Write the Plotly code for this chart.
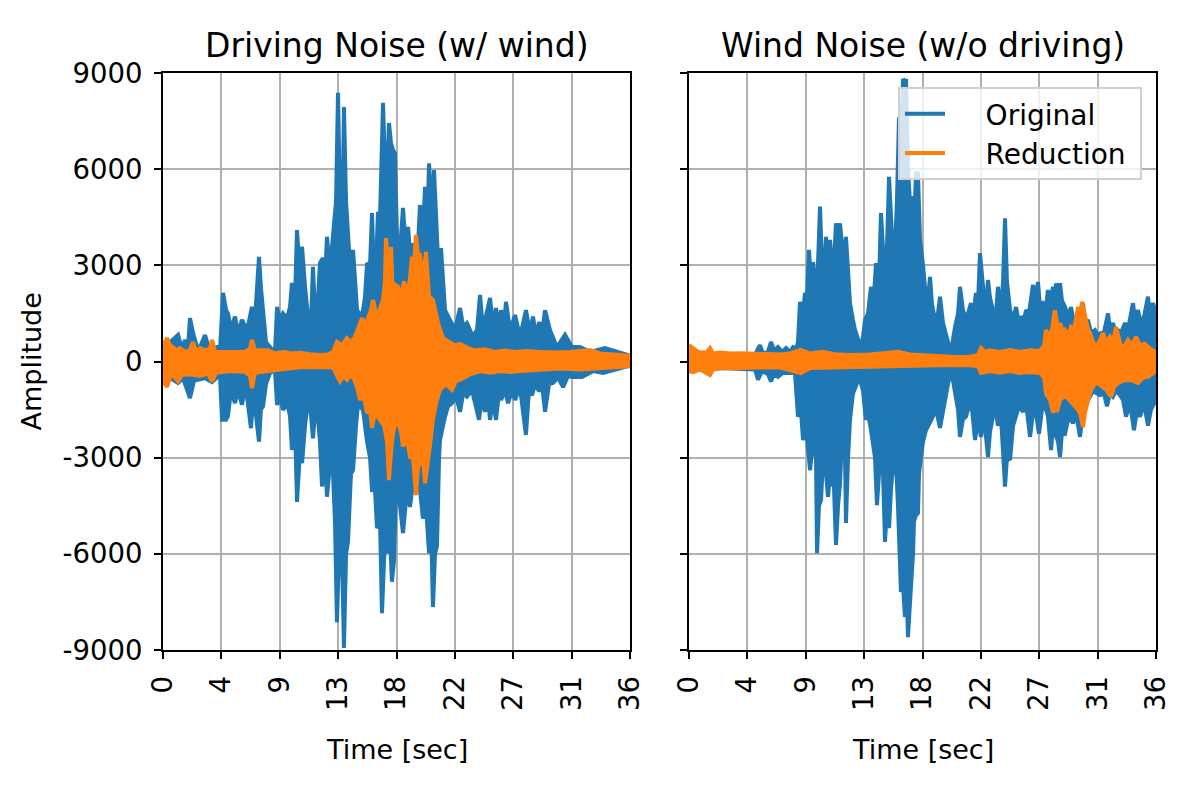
import plotly.graph_objects as go
from plotly.subplots import make_subplots

BLUE = '#1f77b4'
ORANGE = '#ff7f0e'
FONT = 'DejaVu Sans'

titles = ['Driving Noise (w/ wind)', 'Wind Noise (w/o driving)']
x_tick_vals = [0, 4.5, 9, 13.5, 18, 22.5, 27, 31.5, 36]
x_tick_text = ['0', '4', '9', '13', '18', '22', '27', '31', '36']
y_tick_vals = [-9000, -6000, -3000, 0, 3000, 6000, 9000]
y_tick_text = ['-9000', '-6000', '-3000', '0', '3000', '6000', '9000']

# ---- Driving noise (w/ wind): peak envelopes ----
drive_orig_up_t = [0.0, 0.15, 0.54, 1.16, 1.46, 1.70, 1.93, 2.08, 2.31, 2.62, 2.85, 3.24, 3.55, 4.16, 4.39,
                   4.63, 4.86, 5.01, 5.24, 5.55, 5.78, 6.09, 6.48, 6.86, 7.09, 7.25, 7.40, 7.55, 7.71, 7.94,
                   8.25, 8.63, 8.79, 9.02, 9.25, 9.56, 9.79, 9.94, 10.18, 10.33, 10.56, 10.72, 10.95, 11.18,
                   11.41, 11.56, 11.72, 11.87, 12.10, 12.33, 12.49, 12.64, 12.87, 13.11, 13.34, 13.49, 13.64,
                   13.80, 13.95, 14.11, 14.26, 14.49, 14.65, 14.96, 15.34, 15.57, 15.73, 15.96, 16.11, 16.34,
                   16.57, 16.73, 16.96, 17.11, 17.19, 17.42, 17.58, 17.73, 17.88, 18.04, 18.19, 18.50, 18.73,
                   18.89, 19.12, 19.27, 19.58, 19.81, 20.04, 20.20, 20.35, 20.51, 20.66, 20.89, 21.12, 21.28,
                   21.43, 21.74, 22.12, 22.51, 22.90, 23.13, 23.43, 23.90, 24.21, 24.44, 24.67, 24.82, 25.21,
                   25.44, 25.67, 25.90, 26.06, 26.29, 26.44, 26.75, 27.14, 27.52, 27.98, 28.29, 28.52, 28.75,
                   28.99, 29.22, 29.45, 29.83, 30.37, 30.99, 31.53, 32.15, 32.92, 34.07, 35.08, 35.85, 36.0]
drive_orig_up_a = [400, 580, 600, 830, 400, 670, 450, 1350, 900, 450, 450, 825, 400, 450, 300,
                   2140, 1600, 1500, 1000, 1400, 900, 1300, 980, 1700, 1300, 2640, 3260, 2300, 1670, 600,
                   450, 270, 1700, 1300, 1500, 1350, 1700, 2450, 2000, 4100, 2600, 3580, 2330, 1400,
                   1200, 2950, 1500, 1400, 3070, 3230, 2500, 3890, 2850, 4100, 5000, 8380, 4940,
                   3500, 7940, 5000, 3890, 2500, 3480, 1600, 1400, 2000, 3070, 3000, 4630, 1820,
                   4670, 4500, 8070, 5500, 4940, 7440, 6800, 6600, 6500, 3890, 3000, 4790, 3500,
                   4200, 3000, 3690, 3000, 4880, 4000, 5450, 4000, 6180, 4500, 5970, 3890, 2500,
                   3540, 1600, 1300, 1000, 1670, 1100, 1200, 770, 1000, 2080, 1000, 1300, 1980,
                   1100, 1670, 1000, 1600, 1100, 1860, 980, 1450, 770, 1600, 900, 1400, 800,
                   1230, 900, 1600, 980, 450, 830, 450, 450, 300, 420, 300, 200, 150]

drive_orig_lo_t = [0.0, 0.15, 0.31, 0.69, 1.16, 1.54, 2.08, 2.39, 2.85, 3.24, 3.78, 4.16, 4.39, 4.55, 4.86,
                   5.01, 5.24, 5.55, 5.78, 6.09, 6.32, 6.48, 6.78, 6.94, 7.09, 7.40, 7.55, 7.71, 7.94, 8.25,
                   8.63, 8.79, 9.02, 9.25, 9.56, 9.79, 9.94, 10.18, 10.33, 10.56, 10.72, 10.95, 11.10, 11.33,
                   11.56, 11.72, 11.87, 12.10, 12.26, 12.49, 12.64, 12.87, 13.03, 13.26, 13.41, 13.57, 13.72,
                   13.80, 13.95, 14.11, 14.26, 14.49, 14.65, 14.88, 15.03, 15.42, 15.73, 15.96, 16.11, 16.34,
                   16.50, 16.73, 16.88, 17.11, 17.27, 17.50, 17.65, 17.81, 17.96, 18.19, 18.50, 18.81, 19.04,
                   19.27, 19.58, 19.81, 20.04, 20.27, 20.51, 20.66, 20.81, 20.97, 21.12, 21.28, 21.35, 21.74,
                   21.97, 22.28, 22.59, 22.90, 23.13, 23.43, 23.82, 24.36, 24.59, 24.82, 25.05, 25.21, 25.44,
                   25.67, 25.90, 26.06, 26.36, 26.60, 26.90, 27.14, 27.52, 27.98, 28.21, 28.45, 28.68, 28.99,
                   29.22, 29.45, 29.76, 30.06, 30.45, 30.84, 31.22, 31.53, 32.30, 33.15, 33.92, 35.00, 35.85,
                   36.0]
drive_orig_lo_a = [-400, -480, -500, -550, -670, -520, -1140, -600, -550, -520, -640, -500, -400, -1820, -1820,
                   -1700, -900, -1300, -900, -1350, -800, -1100, -2080, -1200, -1400, -2500, -1500, -1400, -700, -360,
                   -250, -1350, -1100, -1510, -1300, -1700, -2760, -2000, -4380, -2800, -3170, -2000, -1510, -1300,
                   -2400, -1600, -1400, -2500, -3900, -3000, -4220, -3200, -2760, -5000, -8130, -6000, -5880,
                   -6000, -8940, -6000, -5630, -3500, -3390, -2000, -1350, -1510, -2500, -3000, -4010, -4000,
                   -5200, -5000, -7850, -5500, -5980, -5500, -6870, -6200, -4010, -4200, -5350, -4000, -4540,
                   -3800, -3490, -4000, -4900, -4500, -5980, -5000, -7660, -6000, -5770, -3000, -2450, -1720,
                   -1400, -1300, -1100, -1570, -1000, -1100, -900, -1820, -1100, -1570, -1100, -1820, -1200,
                   -1820, -1000, -1200, -900, -1300, -900, -1200, -800, -2290, -900, -1050, -700, -930,
                   -700, -1570, -700, -670, -500, -800, -450, -480, -480, -300, -360, -250, -140,
                   -130]

drive_red_up_t = [0.0, 0.15, 0.31, 0.54, 0.77, 1.00, 1.31, 1.70, 2.08, 2.31, 2.54, 2.85, 3.24, 3.62, 3.78,
                  4.01, 4.78, 5.55, 6.32, 6.71, 6.86, 7.09, 7.48, 8.09, 8.63, 9.40, 9.79, 10.56, 11.33, 12.10,
                  12.72, 13.11, 13.41, 13.80, 14.18, 14.49, 14.80, 15.03, 15.34, 15.57, 15.80, 16.03, 16.19,
                  16.42, 16.57, 16.81, 16.96, 17.11, 17.19, 17.34, 17.50, 17.58, 17.73, 17.88, 18.12, 18.27,
                  18.58, 18.81, 19.04, 19.19, 19.35, 19.50, 19.66, 19.81, 20.04, 20.27, 20.51, 20.81, 21.05,
                  21.20, 21.58, 22.12, 22.51, 22.90, 23.51, 24.05, 24.82, 25.59, 26.36, 27.14, 27.91, 29.06,
                  30.22, 31.37, 32.92, 33.69, 34.84, 36.0]
drive_red_up_a = [500, 600, 730, 500, 450, 350, 420, 300, 350, 610, 300, 420, 350, 400, 670,
                  300, 300, 320, 300, 400, 670, 350, 360, 350, 250, 300, 250, 270, 230, 200,
                  220, 300, 610, 500, 730, 600, 770, 1000, 1350, 1100, 1400, 1600, 1920,
                  1500, 1450, 1700, 1920, 2500, 3850, 3000, 2910, 3580, 1920, 2400, 2330, 1920,
                  2500, 2020, 2600, 3270, 3000, 3950, 3300, 3320, 2540, 3420, 2020, 1920, 1500,
                  1200, 730, 610, 500, 550, 420, 350, 380, 300, 340, 300, 330, 300,
                  280, 300, 360, 250, 200, 180]

drive_red_lo_t = [0.0, 0.15, 0.31, 0.54, 0.77, 1.16, 1.46, 2.08, 2.85, 3.47, 3.78, 4.09, 5.16, 6.32, 6.71,
                  6.86, 7.09, 7.86, 9.02, 10.56, 12.10, 13.11, 13.41, 13.64, 13.95, 14.18, 14.42, 14.65, 14.96,
                  15.19, 15.42, 15.73, 15.96, 16.11, 16.34, 16.73, 17.04, 17.27, 17.42, 17.58, 17.73, 17.96,
                  18.12, 18.35, 18.50, 18.81, 19.04, 19.27, 19.50, 19.66, 19.81, 20.04, 20.20, 20.35, 20.51,
                  20.81, 21.05, 21.35, 21.82, 22.28, 22.59, 22.90, 23.67, 24.44, 25.21, 25.98, 26.75, 27.52,
                  29.06, 30.60, 32.15, 33.69, 34.84, 36.0]
drive_red_lo_a = [-500, -700, -790, -500, -420, -620, -420, -400, -450, -380, -620, -350, -300, -320, -450,
                  -830, -350, -300, -250, -180, -170, -190, -400, -620, -450, -570, -450, -480, -800,
                  -1200, -1000, -1600, -1500, -2070, -1600, -1820, -2000, -2500, -3700, -2800, -2250, -1820,
                  -1900, -2200, -2650, -2400, -2980, -3000, -4170, -3300, -3170, -3000, -3800, -3300, -2850,
                  -1820, -1300, -880, -700, -880, -600, -570, -400, -300, -350, -300, -330, -300,
                  -250, -220, -250, -200, -180, -150]

# ---- Wind noise (w/o driving) ----
wind_orig_up_t = [0.0, 0.85, 2.00, 3.16, 4.32, 5.09, 5.32, 5.47, 5.70, 6.09, 6.32, 6.55, 6.86, 7.17, 7.48,
                  7.79, 8.02, 8.25, 8.40, 8.56, 8.79, 8.94, 9.10, 9.25, 9.40, 9.56, 9.71, 9.79, 9.94, 10.10,
                  10.25, 10.33, 10.56, 10.72, 10.87, 11.10, 11.33, 11.49, 11.64, 11.79, 11.95, 12.10, 12.26,
                  12.41, 12.64, 12.80, 13.03, 13.18, 13.34, 13.57, 13.80, 14.03, 14.18, 14.42, 14.65, 14.80,
                  14.96, 15.11, 15.26, 15.42, 15.57, 15.65, 15.88, 16.03, 16.19, 16.34, 16.50, 16.65, 16.73,
                  16.88, 17.04, 17.27, 17.42, 17.50, 17.65, 17.81, 18.04, 18.19, 18.42, 18.58, 18.73, 18.96,
                  19.19, 19.35, 19.58, 19.73, 19.97, 20.12, 20.27, 20.51, 20.74, 20.89, 21.12, 21.28, 21.51,
                  21.74, 21.89, 22.12, 22.28, 22.43, 22.59, 22.74, 22.90, 23.05, 23.20, 23.43, 23.67, 23.82,
                  23.97, 24.05, 24.21, 24.36, 24.51, 24.75, 24.98, 25.21, 25.44, 25.59, 25.82, 25.98, 26.21,
                  26.52, 26.67, 26.90, 27.06, 27.29, 27.52, 27.67, 27.83, 28.06, 28.21, 28.29, 28.45, 28.60,
                  28.75, 28.99, 29.22, 29.45, 29.68, 29.99, 30.14, 30.37, 30.53, 30.76, 30.99, 31.30, 31.53,
                  31.76, 31.99, 32.30, 32.45, 32.68, 32.92, 33.07, 33.30, 33.61, 33.84, 34.23, 34.38, 34.61,
                  34.84, 35.08, 35.38, 35.54, 35.77, 36.0]
wind_orig_up_a = [200, 180, 200, 150, 180, 200, 400, 510, 250, 300, 610, 350, 450, 300, 420,
                  300, 450, 400, 600, 1860, 1500, 2140, 2000, 3480, 2500, 3100, 2500, 2020, 3000, 4830,
                  3000, 2020, 3890, 3000, 3790, 2500, 4310, 3800, 4310, 3480, 3000, 3890, 2500,
                  1820, 1300, 980, 700, 570, 500, 1300, 1500, 2330, 1600, 3070, 2500, 4630,
                  3500, 3070, 3500, 5760, 4000, 3890, 3480, 5000, 7620, 7000, 8810, 8750, 8810,
                  6000, 4940, 5140, 5000, 5870, 5870, 3790, 3000, 2330, 1920, 2640, 1800, 1300,
                  1500, 2020, 1200, 980, 600, 270, 500, 1080, 1500, 2330, 1600, 1400, 1500,
                  1820, 1300, 2140, 1800, 3380, 2500, 2020, 1700, 2540, 2000, 1600, 1500, 2330,
                  1700, 1600, 2500, 4470, 2500, 1600, 1300, 1700, 1200, 1400, 1300, 1600, 1500,
                  2390, 1800, 2480, 1700, 1820, 1700, 2230, 1800, 2330, 2000, 2440, 2100, 2440,
                  1900, 1700, 1400, 1700, 1200, 1200, 1000, 1820, 1200, 1300, 900, 980, 800,
                  890, 900, 1500, 1000, 1200, 900, 980, 900, 1200, 1000, 1820, 1300, 1600,
                  1200, 1400, 2020, 1500, 1820, 1500]

wind_orig_lo_t = [0.0, 0.85, 2.39, 3.93, 5.09, 5.32, 5.63, 6.09, 6.32, 6.55, 6.86, 7.25, 7.63, 8.17, 8.40,
                  8.63, 8.79, 9.02, 9.33, 9.48, 9.64, 9.79, 9.87, 10.02, 10.18, 10.33, 10.41, 10.56, 10.72,
                  10.87, 10.95, 11.10, 11.33, 11.49, 11.64, 11.79, 11.87, 12.03, 12.10, 12.26, 12.41, 12.64,
                  12.80, 13.03, 13.18, 13.41, 13.64, 13.80, 14.03, 14.18, 14.34, 14.49, 14.65, 14.80, 14.96,
                  15.11, 15.26, 15.42, 15.57, 15.65, 15.80, 15.96, 16.11, 16.34, 16.50, 16.65, 16.81, 16.88,
                  17.04, 17.11, 17.27, 17.34, 17.50, 17.65, 17.73, 17.88, 18.04, 18.27, 18.58, 18.81, 19.04,
                  19.35, 19.58, 19.81, 19.97, 20.20, 20.35, 20.51, 20.74, 20.89, 21.12, 21.35, 21.58, 21.82,
                  22.05, 22.28, 22.51, 22.74, 23.05, 23.20, 23.43, 23.67, 23.82, 24.05, 24.21, 24.36, 24.51,
                  24.75, 24.98, 25.21, 25.44, 25.75, 25.98, 26.29, 26.52, 26.67, 26.98, 27.21, 27.44, 27.67,
                  27.91, 28.06, 28.21, 28.45, 28.60, 28.75, 28.99, 29.29, 29.60, 29.83, 30.14, 30.37, 30.76,
                  31.14, 31.45, 31.68, 31.99, 32.22, 32.45, 32.68, 32.92, 33.22, 33.46, 33.69, 34.00, 34.30,
                  34.54, 34.77, 35.08, 35.38, 35.61, 35.77, 36.0]
wind_orig_lo_a = [-200, -220, -200, -220, -250, -570, -300, -400, -620, -400, -480, -350, -360, -360, -1720,
                  -1500, -2450, -2000, -3390, -2800, -2650, -3000, -5980, -4500, -4320, -3000, -2450, -3500, -4220,
                  -3500, -3900, -3000, -5720, -4500, -3800, -2500, -1720, -3000, -5040, -3000, -1820, -1000,
                  -800, -600, -570, -900, -1820, -1600, -2140, -2500, -3000, -4480, -3500, -3020, -3500,
                  -5630, -4500, -5200, -4000, -3600, -3300, -3170, -4500, -7190, -7000, -7970, -7500, -8600,
                  -7500, -7030, -6000, -5000, -4790, -4730, -3500, -2980, -2500, -2140, -1900, -1720, -1500,
                  -2070, -1500, -1050, -700, -250, -600, -930, -1500, -2350, -1800, -1720, -1400, -1500,
                  -2450, -1800, -2350, -1700, -2980, -2200, -1720, -1600, -2000, -1700, -2500, -3900, -3000,
                  -3070, -2000, -1720, -1400, -1570, -1300, -2350, -1600, -1400, -2250, -1500, -1400, -1700,
                  -2760, -2000, -2250, -2500, -2980, -2200, -2250, -1700, -1930, -1600, -2350, -1600, -1200,
                  -930, -1000, -1050, -1000, -1400, -1000, -1100, -900, -1050, -1200, -1720, -1300, -2140,
                  -1500, -1720, -1300, -2000, -1500, -1400, -1200]

wind_red_up_t = [0.0, 0.31, 0.69, 1.08, 1.39, 1.62, 1.85, 2.39, 3.16, 3.93, 4.70, 5.47, 6.24, 7.01, 7.79,
                 8.63, 9.33, 10.33, 11.25, 12.41, 13.95, 15.11, 16.11, 17.04, 18.19, 19.35, 20.51, 21.66,
                 22.28, 22.51, 22.82, 23.20, 23.97, 24.75, 25.52, 26.29, 27.06, 27.37, 27.52, 27.75, 27.98,
                 28.21, 28.45, 28.60, 28.83, 28.99, 29.22, 29.45, 29.68, 29.99, 30.14, 30.30, 30.53, 30.76,
                 30.91, 31.30, 31.61, 31.91, 32.15, 32.45, 32.68, 32.92, 33.15, 33.30, 33.61, 33.84, 34.15,
                 34.46, 34.77, 35.15, 35.54, 35.77, 36.0]
wind_red_up_a = [510, 400, 300, 280, 300, 420, 250, 280, 250, 260, 250, 220, 230, 220, 250,
                 360, 250, 300, 230, 200, 220, 250, 300, 220, 200, 150, 140, 150,
                 200, 420, 300, 350, 300, 360, 300, 350, 330, 500, 980, 800, 1000,
                 1600, 1000, 1200, 900, 980, 800, 1080, 1000, 1700, 1500, 1860, 1400, 1000,
                 890, 450, 600, 890, 600, 770, 600, 1080, 700, 450, 500, 670, 500,
                 770, 500, 550, 400, 360, 300]

wind_red_lo_t = [0.0, 0.31, 0.85, 1.62, 1.85, 2.39, 3.93, 5.47, 7.01, 8.63, 9.33, 10.87, 12.41, 13.95, 15.49,
                 17.04, 18.58, 20.12, 21.66, 22.28, 22.51, 23.20, 23.97, 24.75, 25.52, 26.29, 27.06, 27.37,
                 27.52, 27.83, 28.06, 28.21, 28.37, 28.60, 28.99, 29.37, 29.76, 30.14, 30.37, 30.53, 30.76,
                 30.99, 31.30, 31.61, 31.91, 32.22, 32.53, 32.76, 33.07, 33.46, 33.84, 34.23, 34.61, 35.00,
                 35.38, 35.77, 36.0]
wind_red_lo_a = [-300, -330, -250, -420, -250, -220, -200, -190, -190, -360, -200, -180, -170, -180, -170,
                 -150, -120, -110, -120, -150, -360, -300, -350, -300, -360, -330, -360, -500,
                 -1000, -1200, -1600, -1400, -1570, -1200, -1050, -1200, -1400, -1600, -2050, -1600, -1200,
                 -900, -670, -700, -800, -900, -1100, -800, -670, -600, -570, -600, -670, -500,
                 -480, -360, -300]


def band(t_up, a_up, t_lo, a_lo):
    # closed outline: upper envelope forwards, lower envelope backwards
    return t_up + t_lo[::-1], a_up + a_lo[::-1]


fig = make_subplots(rows=1, cols=2, shared_yaxes=True)

panels = [
    (drive_orig_up_t, drive_orig_up_a, drive_orig_lo_t, drive_orig_lo_a,
     drive_red_up_t, drive_red_up_a, drive_red_lo_t, drive_red_lo_a),
    (wind_orig_up_t, wind_orig_up_a, wind_orig_lo_t, wind_orig_lo_a,
     wind_red_up_t, wind_red_up_a, wind_red_lo_t, wind_red_lo_a),
]

for col, p in enumerate(panels, start=1):
    for k, color in [(0, BLUE), (4, ORANGE)]:
        xs, ys = band(p[k], p[k + 1], p[k + 2], p[k + 3])
        fig.add_trace(go.Scatter(x=xs, y=ys, mode='lines', fill='toself', fillcolor=color,
                                 line=dict(color=color, width=4), showlegend=False,
                                 hoverinfo='skip'), row=1, col=col)

# legend entries (line samples only)
pad = '\u00a0' * 4
for name, color in [('Original', BLUE), ('Reduction', ORANGE)]:
    fig.add_trace(go.Scatter(x=[None], y=[None], mode='lines', name=pad + name + '\u00a0',
                             line=dict(color=color, width=4)), row=1, col=2)

axis_common = dict(showline=True, linecolor='black', linewidth=2, mirror=True,
                   ticks='outside', ticklen=7, tickwidth=2, tickcolor='black',
                   showgrid=True, gridcolor='#b0b0b0', gridwidth=2, zeroline=False,
                   automargin=False, ticklabelstandoff=6,
                   tickfont=dict(family=FONT, size=27.5, color='black'))

fig.update_xaxes(range=[0, 36], tickvals=x_tick_vals, ticktext=x_tick_text, tickangle=-90,
                 **axis_common)
fig.update_yaxes(range=[-9000, 9000], tickvals=y_tick_vals, ticktext=y_tick_text, **axis_common)
fig.update_yaxes(showticklabels=False, row=1, col=2)

# the page body adds an 8px offset, so layout positions are shifted by it
OFF = 8
fig.update_layout(
    xaxis=dict(domain=[(163 - OFF) / 1200, (630 - OFF) / 1200]),
    xaxis2=dict(domain=[(689 - OFF) / 1200, (1156 - OFF) / 1200]),
    yaxis=dict(domain=[0, 1]),
    width=1200, height=800,
    margin=dict(l=0, r=0, t=73 - OFF, b=150 + OFF, autoexpand=False),
    paper_bgcolor='white', plot_bgcolor='white',
    font=dict(family=FONT, size=27, color='black'),
    legend=dict(x=(1142 - OFF) / 1200, y=(650 - 87) / 577, xanchor='right', yanchor='top',
                xref='paper', yref='paper',
                bgcolor='rgba(255,255,255,0.8)', bordercolor='#d0d0d0', borderwidth=2,
                font=dict(family=FONT, size=28, color='black'), itemwidth=40),
)

centers = [(163 + 630) / 2 - OFF, (689 + 1156) / 2 - OFF]
for cx, title in zip(centers, titles):
    fig.add_annotation(x=cx / 1200, y=1, xref='paper', yref='paper', text=title, showarrow=False,
                       xanchor='center', yanchor='bottom', yshift=6,
                       font=dict(family=FONT, size=33, color='black'))
    fig.add_annotation(x=cx / 1200, y=-0.173, xref='paper', yref='paper', text='Time [sec]',
                       showarrow=False, xanchor='center', yanchor='middle',
                       font=dict(family=FONT, size=27, color='black'))

fig.add_annotation(x=(31 - OFF) / 1200, y=0.5, xref='paper', yref='paper', text='Amplitude',
                   showarrow=False, textangle=-90, xanchor='center', yanchor='middle',
                   font=dict(family=FONT, size=27, color='black'))

fig.write_html("out.html")
